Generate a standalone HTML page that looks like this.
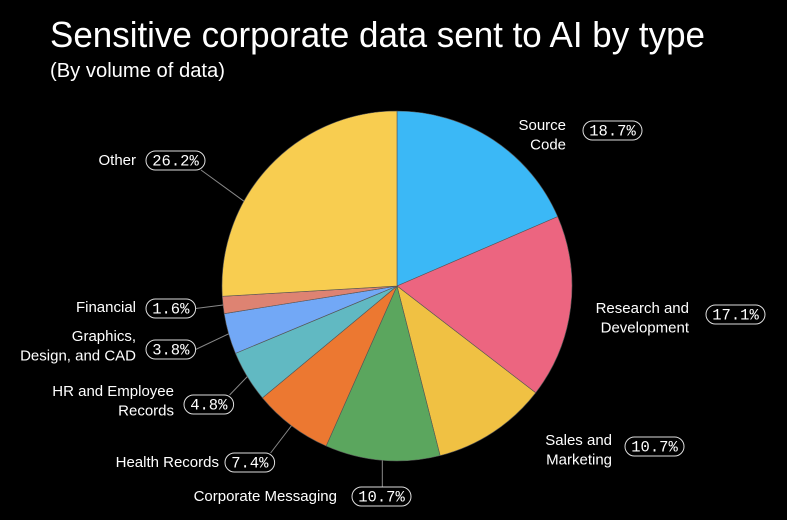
<!DOCTYPE html>
<html><head><meta charset="utf-8"><style>
html,body{margin:0;padding:0;background:#000;}
svg{display:block;}
.lbl{font-family:"Liberation Sans",sans-serif;font-size:15px;fill:#fff;}
.pct{font-family:"Liberation Mono",monospace;font-size:15.5px;fill:#fff;}
</style></head><body>
<svg id="chart" width="787" height="520" viewBox="0 0 787 520">
<rect width="787" height="520" fill="#000"/>
<text x="50" y="47" fill="#fff" font-family="'Liberation Sans Narrow','Liberation Sans',sans-serif" font-size="36" textLength="655" lengthAdjust="spacingAndGlyphs">Sensitive corporate data sent to AI by type</text>
<text x="50" y="77" fill="#fff" font-family="'Liberation Sans Narrow','Liberation Sans',sans-serif" font-size="20" textLength="175" lengthAdjust="spacingAndGlyphs">(By volume of data)</text>
<g id="slices"></g><g id="labels"></g>
</svg>
<script>
const categories = ["Source Code","Research and Development","Sales and Marketing","Corporate Messaging","Health Records","HR and Employee Records","Graphics, Design, and CAD","Financial","Other"];
const values = [18.7,17.1,10.7,10.7,7.4,4.8,3.8,1.6,26.2];
const valueLabels = ["18.7%","17.1%","10.7%","10.7%","7.4%","4.8%","3.8%","1.6%","26.2%"];
const colors = ["#3bb8f6","#ec6580","#f0c143","#5ba65e","#ec7831","#61b9c2","#72a8f6","#de8372","#f8cd50"];
// label layout: text lines, text anchor x, text top y, pill x, pill y
const layout = [
 {lines:["Source","Code"],tx:566,ty:131,anchor:"end",px:583,py:121},
 {lines:["Research and","Development"],tx:689,ty:314,anchor:"end",px:706,py:305},
 {lines:["Sales and","Marketing"],tx:612,ty:446,anchor:"end",px:625,py:437},
 {lines:["Corporate Messaging"],tx:337,ty:497,anchor:"end",px:352,py:487},
 {lines:["Health Records"],tx:219,ty:463,anchor:"end",px:225,py:453},
 {lines:["HR and Employee","Records"],tx:174,ty:397,anchor:"end",px:184,py:395},
 {lines:["Graphics,","Design, and CAD"],tx:136,ty:342,anchor:"end",px:146,py:340},
 {lines:["Financial"],tx:136,ty:308,anchor:"end",px:146,py:299},
 {lines:["Other"],tx:136,ty:161,anchor:"end",px:146,py:151}
];
const cx=397, cy=286, R=175;
const NS="http://www.w3.org/2000/svg";
const total=values.reduce((a,b)=>a+b,0);
function angleOf(v){return v/total*Math.PI*2;}
function pt(a,r){return [cx+r*Math.sin(a), cy-r*Math.cos(a)];}
const gS=document.getElementById('slices'), gL=document.getElementById('labels');
let a0=0;
values.forEach((v,i)=>{
  const a1=a0+angleOf(v);
  const p0=pt(a0,R), p1=pt(a1,R);
  const large=(a1-a0)>Math.PI?1:0;
  const path=document.createElementNS(NS,'path');
  path.setAttribute('d',`M${cx},${cy}L${p0[0]},${p0[1]}A${R},${R} 0 ${large} 1 ${p1[0]},${p1[1]}Z`);
  path.setAttribute('fill',colors[i]);
  path.setAttribute('stroke','#555');
  path.setAttribute('stroke-width','0.6');
  
  
  gS.appendChild(path);
  const L=layout[i];
  const pw=valueLabels[i].length*9.4+12, ph=19;
  const mid=(a0+a1)/2;
  let e=pt(mid,R);
  if(i>=3){
    const ln=document.createElementNS(NS,'line');
    let tx = e[0] < cx ? L.px+pw : L.px+pw/2;
    let ty = e[0] < cx ? L.py+ph/2 : L.py;
    if(i===4||i===5){tx=L.px+pw-4;ty=L.py;}
    if(i===8){tx=L.px+pw-4;ty=L.py+ph;e=pt(mid-0.25,R);}
    ln.setAttribute('x1',e[0]);ln.setAttribute('y1',e[1]);
    ln.setAttribute('x2',i===3?e[0]:tx);ln.setAttribute('y2',i===3?L.py:ty);
    ln.setAttribute('stroke','#888');ln.setAttribute('stroke-width','1');
    
    
    gL.appendChild(ln);
  }
  const rect=document.createElementNS(NS,'rect');
  rect.setAttribute('x',L.px);rect.setAttribute('y',L.py);rect.setAttribute('width',pw);rect.setAttribute('height',ph);
  rect.setAttribute('rx',9.5);rect.setAttribute('fill','#000');rect.setAttribute('stroke','#ddd');rect.setAttribute('stroke-width','1');
  
  
  gL.appendChild(rect);
  const pt2=document.createElementNS(NS,'text');
  pt2.setAttribute('x',L.px+pw/2);pt2.setAttribute('y',L.py+14.5);pt2.setAttribute('text-anchor','middle');pt2.setAttribute('class','pct');
  pt2.textContent=valueLabels[i];
  
  
  gL.appendChild(pt2);
  const n=L.lines.length;
  L.lines.forEach((s,k)=>{
    const t=document.createElementNS(NS,'text');
    t.setAttribute('x',L.tx);
    t.setAttribute('y',L.ty+k*19.5+(n===1?4:-1));
    t.setAttribute('text-anchor',L.anchor);t.setAttribute('class','lbl');
    t.textContent=s;
    
    
    gL.appendChild(t);
  });
  a0=a1;
});
</script>
</body></html>
